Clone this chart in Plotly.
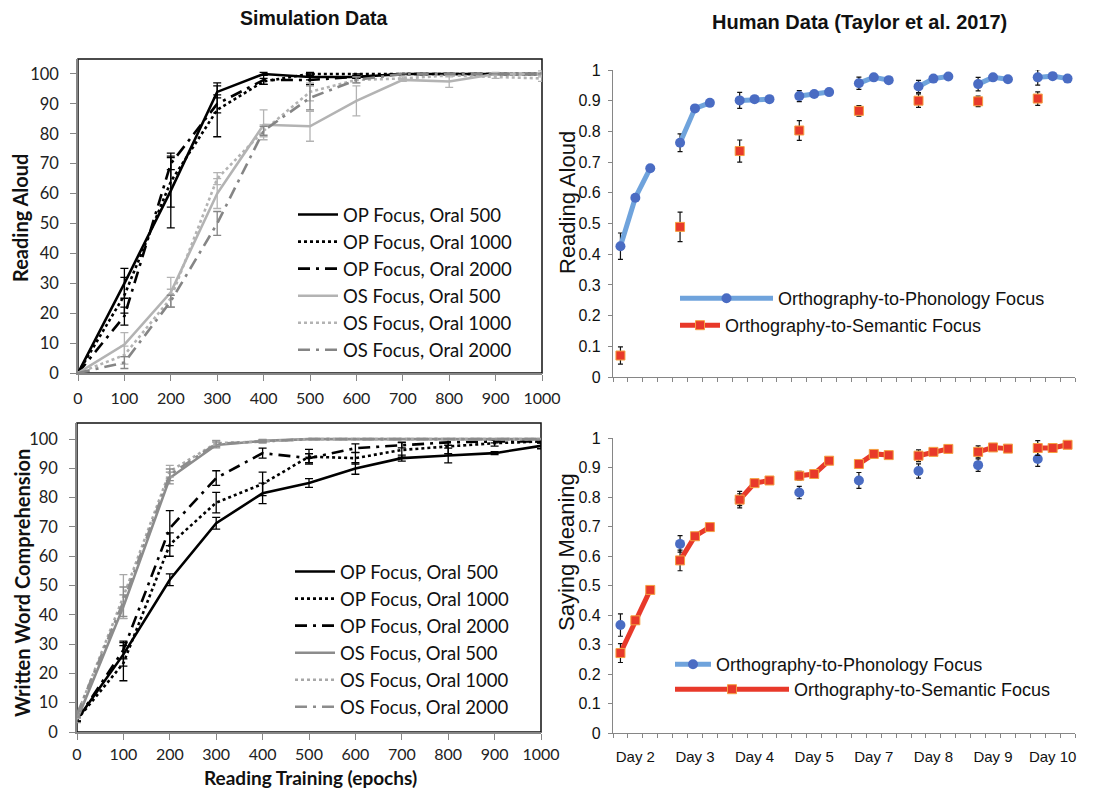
import plotly.graph_objects as go

W, H = 1105, 793

# ---------------- Simulation data (left) ----------------
epochs = [0, 100, 200, 300, 400, 500, 600, 700, 800, 900, 1000]

ra_op500 = [0, 30, 61, 94, 100, 99, 99, 100, 100, 100, 100]
ra_op500_err = [0, 5, 12.5, 2, 0.5, 1, 0.5, 0, 0, 0, 0]
ra_op1000 = [0, 26, 64, 88, 97.5, 100, 100, 100, 100, 100, 100]
ra_op1000_err = [0, 6, 8.5, 9, 1, 0.5, 0, 0, 0, 0, 0]
ra_op2000 = [0, 19, 70, 90, 98, 98, 99, 100, 100, 100, 100]
ra_op2000_err = [0, 3, 2, 3, 1.5, 1.5, 0.5, 0, 0, 0, 0]
ra_os500 = [0, 9.5, 27, 60, 83, 82.5, 91, 98, 97.5, 100, 100]
ra_os500_err = [0, 4, 5, 5, 5, 5, 5, 0.5, 2, 0.5, 1]
ra_os1000 = [0, 6, 25, 65, 81, 94, 98, 98.5, 99.5, 99, 98.5]
ra_os1000_err = [0, 3, 3, 2, 2, 3, 1, 0.5, 0.5, 0.5, 1]
ra_os2000 = [0, 3.5, 24, 50, 81, 92, 98, 100, 100, 100, 100]
ra_os2000_err = [0, 2, 2, 4, 1.5, 4, 1, 0, 0, 0, 0]

wc_op500 = [4.2, 26.5, 52, 71.3, 81.5, 85, 90, 93.5, 94.4, 95.2, 97.7]
wc_op500_err = [0.5, 4, 2, 2, 3.5, 1.5, 2, 1, 2.5, 0.5, 1]
wc_op1000 = [4.2, 23.5, 64, 78.3, 84.7, 94, 93.5, 96.3, 97.5, 98.6, 99.2]
wc_op1000_err = [0.5, 6, 4, 3.5, 4, 2.5, 2, 2.5, 2.5, 1, 0.5]
wc_op2000 = [4.2, 28, 69.6, 86.7, 95.2, 93.5, 96.9, 98, 98.9, 99.2, 99.2]
wc_op2000_err = [0.5, 3, 6, 2.5, 1.7, 1.5, 1.5, 1, 1, 0.5, 0.5]
wc_os500 = [4.2, 42.8, 86.7, 98, 99.4, 100, 100, 100, 100, 100, 100]
wc_os500_err = [1, 4, 2, 1, 0.5, 0, 0, 0, 0, 0, 0]
wc_os1000 = [5.7, 46.2, 89, 98.6, 99.2, 100, 100, 100, 100, 100, 100]
wc_os1000_err = [1, 7.5, 2, 1, 0.5, 0, 0, 0, 0, 0, 0]
wc_os2000 = [6, 44.5, 87.8, 98.4, 99.2, 100, 100, 100, 100, 100, 100]
wc_os2000_err = [1, 5, 2, 1, 0.5, 0, 0, 0, 0, 0, 0]

sim_names = ["OP Focus, Oral 500", "OP Focus, Oral 1000", "OP Focus, Oral 2000",
             "OS Focus, Oral 500", "OS Focus, Oral 1000", "OS Focus, Oral 2000"]

# ---------------- Human data (right) ----------------
days = ["Day 2", "Day 3", "Day 4", "Day 5", "Day 7", "Day 8", "Day 9", "Day 10"]
sessions_per_day = 3

# Reading aloud (3 sessions per day)
ra_h_op = [0.426, 0.584, 0.680, 0.763, 0.875, 0.893, 0.901, 0.905, 0.905,
           0.915, 0.922, 0.928, 0.957, 0.976, 0.967, 0.946, 0.972, 0.979,
           0.954, 0.976, 0.970, 0.976, 0.980, 0.972]
ra_h_op_err = [0.043, None, None, 0.029, None, None, 0.026, None, None,
               0.018, None, None, 0.020, None, None, 0.020, None, None,
               0.022, None, None, 0.025, None, None]
ra_h_os = [0.070, None, None, 0.489, None, None, 0.736, None, None,
           0.803, None, None, 0.867, None, None, 0.900, None, None,
           0.898, None, None, 0.907, None, None]
ra_h_os_err = [0.028, None, None, 0.048, None, None, 0.036, None, None,
               0.032, None, None, 0.017, None, None, 0.022, None, None,
               0.017, None, None, 0.022, None, None]

# Saying meaning (3 sessions per day)
sm_h_os = [0.271, 0.382, 0.485, 0.585, 0.667, 0.698, 0.791, 0.847, 0.856,
           0.872, 0.878, 0.923, 0.912, 0.946, 0.942, 0.940, 0.953, 0.963,
           0.953, 0.968, 0.964, 0.966, 0.966, 0.977]
sm_h_os_err = [0.032, None, None, 0.035, None, None, 0.02, None, None,
               0.015, None, None, 0.012, None, None, 0.02, None, None,
               0.02, None, None, 0.025, None, None]
sm_h_op = [0.366, None, None, 0.641, None, None, 0.791, None, None,
           0.815, None, None, 0.856, None, None, 0.888, None, None,
           0.908, None, None, 0.929, None, None]
sm_h_op_err = [0.038, None, None, 0.028, None, None, 0.028, None, None,
               0.021, None, None, 0.027, None, None, 0.024, None, None,
               0.021, None, None, 0.025, None, None]

human_names = ["Orthography-to-Phonology Focus", "Orthography-to-Semantic Focus"]

# category slots: 3 sessions + 1 blank slot per day (blank breaks the line)
slot = sessions_per_day + 1
n_slots = len(days) * slot - 1
x_slots = list(range(n_slots))
day_centers = [d * slot + 1 for d in range(len(days))]


def with_gaps(vals):
    out = []
    for d in range(len(days)):
        out.extend(vals[d * sessions_per_day:(d + 1) * sessions_per_day])
        if d < len(days) - 1:
            out.append(None)
    return out


def px_x(p):
    return p / W


def px_y(p):
    return 1 - p / H


fig = go.Figure()

LEFT_FONT = "Lato, Carlito, Calibri, sans-serif"
RIGHT_FONT = "Liberation Sans, Arial, sans-serif"

DASHDOT = "12px,6px,3px,6px"
sim_styles = {
    "top": [("#000000", "solid"), ("#000000", "dot"), ("#000000", DASHDOT),
            ("#b3b3b3", "solid"), ("#b3b3b3", "dot"), ("#858585", DASHDOT)],
    "bot": [("#000000", "solid"), ("#000000", "dot"), ("#000000", DASHDOT),
            ("#8c8c8c", "solid"), ("#a8a8a8", "dot"), ("#8c8c8c", DASHDOT)],
}

top_series = [(ra_op500, ra_op500_err), (ra_op1000, ra_op1000_err), (ra_op2000, ra_op2000_err),
              (ra_os500, ra_os500_err), (ra_os1000, ra_os1000_err), (ra_os2000, ra_os2000_err)]
bot_series = [(wc_op500, wc_op500_err), (wc_op1000, wc_op1000_err), (wc_op2000, wc_op2000_err),
              (wc_os500, wc_os500_err), (wc_os1000, wc_os1000_err), (wc_os2000, wc_os2000_err)]

for (vals, err), name, (col, dash) in zip(top_series, sim_names, sim_styles["top"]):
    fig.add_trace(go.Scatter(
        x=epochs, y=vals, name=name, mode="lines", xaxis="x", yaxis="y",
        legend="legend",
        line=dict(color=col, width=2.6, dash=dash),
        error_y=dict(type="data", array=err, visible=True, color=col, thickness=1.3, width=4),
    ))

for (vals, err), name, (col, dash) in zip(bot_series, sim_names, sim_styles["bot"]):
    fig.add_trace(go.Scatter(
        x=epochs, y=vals, name=name, mode="lines", xaxis="x2", yaxis="y2",
        legend="legend2",
        line=dict(color=col, width=2.6, dash=dash),
        error_y=dict(type="data", array=err, visible=True, color=col, thickness=1.3, width=4),
    ))

BLUE_LINE = "#6fa3dc"
BLUE_MK = "#4a6cc3"
RED_LINE = "#e8392a"
RED_MK = "#e8392a"
RED_EDGE = "#f5a040"


def human_trace(vals, errs, name, kind, ax, leg):
    if kind == "op":
        line = dict(color=BLUE_LINE, width=5)
        marker = dict(symbol="circle", size=10, color=BLUE_MK)
    else:
        line = dict(color=RED_LINE, width=5)
        marker = dict(symbol="square", size=9, color=RED_MK, line=dict(color=RED_EDGE, width=1))
    return go.Scatter(
        x=x_slots, y=with_gaps(vals), name=name, mode="lines+markers",
        xaxis="x" + ax, yaxis="y" + ax, legend=leg, connectgaps=False,
        line=line, marker=marker,
        error_y=dict(type="data", array=with_gaps(errs), visible=True,
                     color="#111111", thickness=1.2, width=2.5),
    )


fig.add_trace(human_trace(ra_h_op, ra_h_op_err, human_names[0], "op", "3", "legend3"))
fig.add_trace(human_trace(ra_h_os, ra_h_os_err, human_names[1], "os", "3", "legend4"))
fig.add_trace(human_trace(sm_h_op, sm_h_op_err, human_names[0], "op", "4", "legend5"))
fig.add_trace(human_trace(sm_h_os, sm_h_os_err, human_names[1], "os", "4", "legend6"))

AX_GRAY = "#868686"

left_x_common = dict(
    range=[0, 1000], tickmode="array", tickvals=epochs, ticks="outside", ticklen=6,
    tickcolor=AX_GRAY, showline=True, linecolor=AX_GRAY, linewidth=1.5,
    showgrid=False, zeroline=False, automargin=False,
    tickfont=dict(family=LEFT_FONT, size=16, color="#222222"),
)
left_y_common = dict(
    tickmode="array", tickvals=[0, 10, 20, 30, 40, 50, 60, 70, 80, 90, 100],
    ticks="outside", ticklen=6, tickcolor=AX_GRAY, showline=True, linecolor=AX_GRAY,
    linewidth=1.5, showgrid=False, zeroline=False, ticklabelstandoff=8, automargin=False,
    tickfont=dict(family=LEFT_FONT, size=16.5, color="#222222"),
)

right_y_common = dict(
    range=[0, 1], tickmode="array", tickvals=[0, 0.1, 0.2, 0.3, 0.4, 0.5, 0.6, 0.7, 0.8, 0.9, 1],
    ticktext=["0", "0.1", "0.2", "0.3", "0.4", "0.5", "0.6", "0.7", "0.8", "0.9", "1"],
    ticks="outside", ticklen=4, tickcolor=AX_GRAY, showline=True, linecolor=AX_GRAY,
    linewidth=1.3, showgrid=False, zeroline=False, ticklabelstandoff=4, automargin=False,
    tickfont=dict(family=RIGHT_FONT, size=16, color="#111111"),
)
right_x_common = dict(
    range=[-0.5, n_slots - 0.5], tickmode="array", tickvals=day_centers, ticktext=days,
    ticks="", showline=True, linecolor=AX_GRAY, linewidth=1.3, showgrid=False,
    zeroline=False, automargin=False,
    minor=dict(tickmode="linear", tick0=-0.5, dtick=1, ticks="outside", ticklen=4,
               tickcolor=AX_GRAY, tickwidth=1, showgrid=False),
)

leg_left = dict(font=dict(family=LEFT_FONT, size=18.5, color="#111111"),
                bgcolor="rgba(0,0,0,0)", borderwidth=0, xanchor="left", yanchor="top",
                itemwidth=40, tracegroupgap=0)
leg_right = dict(font=dict(family=RIGHT_FONT, size=18, color="#111111"),
                 bgcolor="rgba(0,0,0,0)", borderwidth=0, xanchor="left", yanchor="top")

fig.update_layout(
    width=W, height=H, margin=dict(l=0, r=0, t=0, b=0, pad=0, autoexpand=False),
    paper_bgcolor="white", plot_bgcolor="white",
    showlegend=True,
    xaxis=dict(domain=[px_x(78), px_x(542)], anchor="y", ticklabelstandoff=4,
               **left_x_common),
    yaxis=dict(domain=[px_y(373), px_y(59)], anchor="x", range=[0, 105], **left_y_common),
    xaxis2=dict(domain=[px_x(77), px_x(541)], anchor="y2", ticklabelstandoff=1,
                **left_x_common),
    yaxis2=dict(domain=[px_y(732), px_y(423)], anchor="x2", range=[0, 105.5], **left_y_common),
    xaxis3=dict(domain=[px_x(613), px_x(1075)], anchor="y3", showticklabels=False,
                **right_x_common),
    yaxis3=dict(domain=[px_y(377), px_y(70)], anchor="x3", **right_y_common),
    xaxis4=dict(domain=[px_x(613), px_x(1075)], anchor="y4", ticklabelstandoff=10,
                tickfont=dict(family=RIGHT_FONT, size=15, color="#111111"),
                **right_x_common),
    yaxis4=dict(domain=[px_y(733), px_y(438)], anchor="x4", **right_y_common),
    legend=dict(x=px_x(293), y=px_y(196), **leg_left),
    legend2=dict(x=px_x(290), y=px_y(553), **leg_left),
    legend3=dict(x=px_x(675), y=px_y(280), itemwidth=93, **leg_right),
    legend4=dict(x=px_x(675), y=px_y(307), itemwidth=40, **leg_right),
    legend5=dict(x=px_x(670), y=px_y(646), itemwidth=36, **leg_right),
    legend6=dict(x=px_x(670), y=px_y(671), itemwidth=114, **leg_right),
)

# plot-area boxes for the simulation panels
for xr, yr in (("x domain", "y domain"), ("x2 domain", "y2 domain")):
    fig.add_shape(type="rect", xref=xr, yref=yr, x0=0, x1=1, y0=0, y1=1,
                  line=dict(color="#111111", width=1.5), layer="below")

annos = [
    dict(text="<b>Simulation Data</b>", x=px_x(314), y=px_y(18),
         font=dict(family=RIGHT_FONT, size=19.5, color="#111111")),
    dict(text="<b>Human Data (Taylor et al. 2017)</b>", x=px_x(859), y=px_y(22),
         font=dict(family=RIGHT_FONT, size=20, color="#111111")),
    dict(text="<b>Reading Aloud</b>", x=px_x(20), y=px_y(218), textangle=-90,
         font=dict(family=LEFT_FONT, size=20, color="#111111")),
    dict(text="<b>Written Word Comprehension</b>", x=px_x(22), y=px_y(583), textangle=-90,
         font=dict(family=LEFT_FONT, size=20, color="#111111")),
    dict(text="<b>Reading Training (epochs)</b>", x=px_x(310), y=px_y(777),
         font=dict(family=LEFT_FONT, size=19, color="#111111")),
    dict(text="Reading Aloud", x=px_x(567), y=px_y(203), textangle=-90,
         font=dict(family=RIGHT_FONT, size=22, color="#111111")),
    dict(text="Saying Meaning", x=px_x(566), y=px_y(552), textangle=-90,
         font=dict(family=RIGHT_FONT, size=22, color="#111111")),
]
for a in annos:
    fig.add_annotation(xref="paper", yref="paper", showarrow=False,
                       xanchor="center", yanchor="middle", **a)

fig.write_html("out.html", config={"displayModeBar": False},
               post_script="document.body.style.margin='0';"
                           "document.body.style.overflow='hidden';")
